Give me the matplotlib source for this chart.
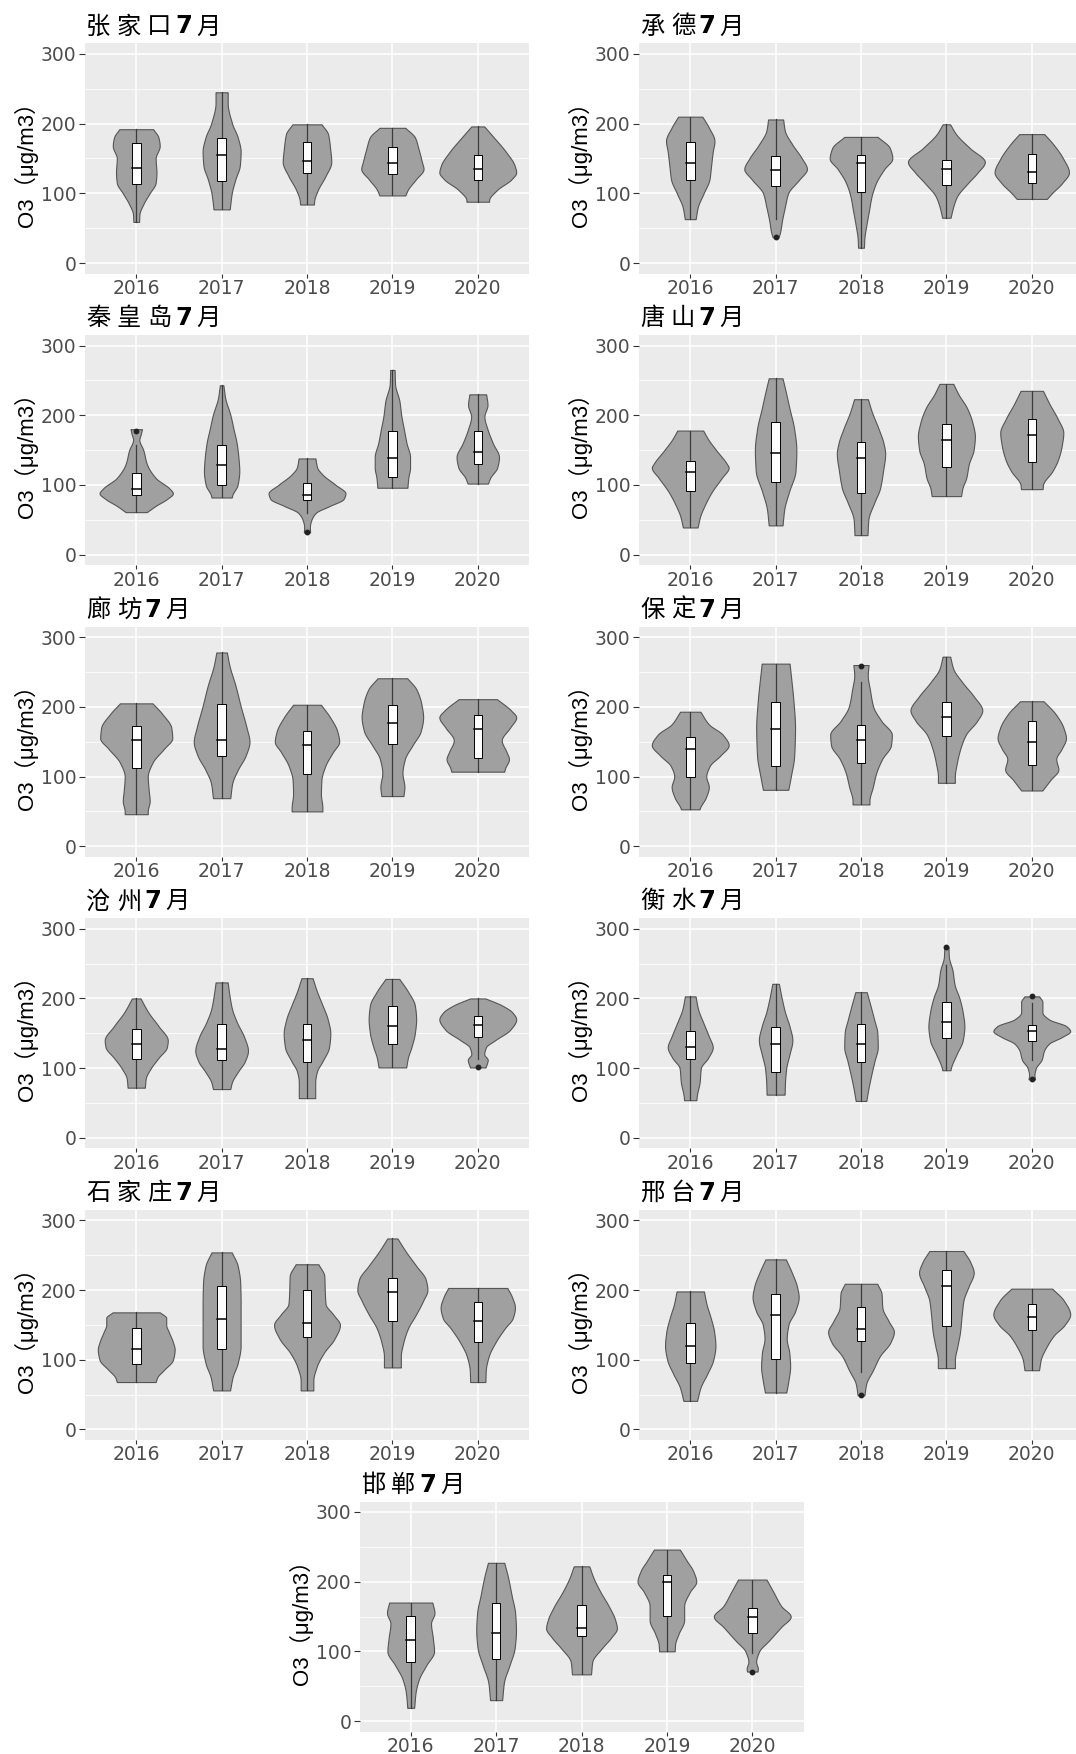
import matplotlib
matplotlib.use("Agg")
import matplotlib.pyplot as plt
import numpy as np
from matplotlib.patches import Rectangle
from matplotlib.transforms import ScaledTranslation


#------------------------[data]------------------------#
years = ["2016", "2017", "2018", "2019", "2020"]
cities = ["张家口", "承德", "秦皇岛", "唐山", "廊坊", "保定",
          "沧州", "衡水", "石家庄", "邢台", "邯郸"]

# box statistics per city, one value per year
q1 = {
    "张家口": [113, 117, 129, 128, 119],
    "承德": [119, 110, 102, 112, 115],
    "秦皇岛": [85, 100, 78, 112, 130],
    "唐山": [92, 104, 89, 126, 133],
    "廊坊": [112, 129, 104, 147, 127],
    "保定": [99, 115, 120, 158, 117],
    "沧州": [113, 111, 109, 134, 145],
    "衡水": [113, 94, 109, 143, 139],
    "石家庄": [94, 116, 133, 155, 125],
    "邢台": [95, 101, 127, 149, 142],
    "邯郸": [85, 89, 122, 151, 127],
}
median = {
    "张家口": [137, 155, 147, 143, 135],
    "承德": [143, 134, 143, 135, 131],
    "秦皇岛": [94, 129, 86, 138, 147],
    "唐山": [118, 146, 138, 165, 172],
    "廊坊": [153, 153, 145, 177, 168],
    "保定": [139, 168, 153, 186, 150],
    "沧州": [135, 127, 140, 160, 162],
    "衡水": [130, 135, 134, 166, 154],
    "石家庄": [115, 158, 153, 197, 156],
    "邢台": [120, 164, 144, 206, 162],
    "邯郸": [117, 126, 133, 200, 150],
}
q3 = {
    "张家口": [172, 179, 174, 167, 155],
    "承德": [173, 153, 155, 148, 156],
    "秦皇岛": [117, 158, 103, 177, 178],
    "唐山": [135, 191, 162, 188, 195],
    "廊坊": [172, 204, 166, 203, 189],
    "保定": [157, 207, 174, 207, 179],
    "沧州": [156, 164, 163, 189, 175],
    "衡水": [153, 159, 163, 195, 162],
    "石家庄": [146, 206, 200, 218, 183],
    "邢台": [153, 194, 175, 229, 180],
    "邯郸": [151, 169, 166, 210, 162],
}
whisker_lo = {
    "张家口": [59, 77, 84, 97, 88],
    "承德": [63, 63, 22, 65, 92],
    "秦皇岛": [61, 82, 60, 96, 102],
    "唐山": [39, 42, 28, 84, 94],
    "廊坊": [46, 69, 50, 72, 107],
    "保定": [53, 81, 60, 91, 80],
    "沧州": [72, 70, 57, 101, 113],
    "衡水": [54, 62, 53, 97, 112],
    "石家庄": [68, 56, 56, 89, 68],
    "邢台": [41, 53, 82, 88, 85],
    "邯郸": [19, 30, 67, 100, 97],
}
whisker_hi = {
    "张家口": [192, 245, 199, 194, 196],
    "承德": [210, 206, 181, 199, 185],
    "秦皇岛": [158, 243, 138, 265, 230],
    "唐山": [178, 253, 223, 245, 235],
    "廊坊": [205, 278, 203, 241, 211],
    "保定": [193, 262, 235, 272, 208],
    "沧州": [200, 223, 229, 228, 200],
    "衡水": [203, 221, 209, 248, 194],
    "石家庄": [168, 254, 237, 274, 203],
    "邢台": [198, 244, 209, 256, 202],
    "邯郸": [170, 227, 222, 246, 203],
}
outliers = {
    "承德": [[], [37], [], [], []],
    "秦皇岛": [[177], [], [32], [], []],
    "保定": [[], [], [259], [], []],
    "沧州": [[], [], [], [], [101]],
    "衡水": [[], [], [], [274], [203, 84]],
    "邢台": [[], [], [49], [], []],
    "邯郸": [[], [], [], [], [71]],
}

# violin density profiles: (O3 value, relative density), top to bottom
density = {
    "张家口": [
        [(192, .42), (180, .55), (168, .58), (150, .48), (130, .50), (115, .48), (100, .33), (85, .18), (70, .08), (59, .07)],
        [(245, .15), (230, .15), (200, .26), (180, .40), (160, .47), (140, .45), (120, .34), (100, .25), (77, .20)],
        [(199, .36), (185, .52), (165, .57), (145, .60), (125, .46), (105, .27), (90, .18), (84, .17)],
        [(194, .32), (180, .56), (165, .64), (145, .73), (135, .77), (120, .58), (105, .38), (97, .32)],
        [(196, .16), (180, .40), (160, .69), (140, .91), (130, .95), (120, .83), (105, .48), (90, .28), (88, .28)],
    ],
    "承德": [
        [(210, .29), (195, .44), (175, .58), (160, .54), (140, .50), (120, .46), (100, .32), (80, .18), (63, .13)],
        [(206, .18), (190, .22), (170, .40), (150, .63), (135, .75), (120, .57), (100, .30), (80, .22), (60, .15), (45, .11), (37, .07)],
        [(181, .40), (165, .69), (150, .75), (135, .56), (115, .36), (95, .25), (75, .19), (55, .13), (35, .08), (22, .07)],
        [(199, .09), (185, .23), (165, .56), (145, .92), (130, .75), (115, .52), (95, .25), (80, .16), (65, .10)],
        [(185, .30), (170, .52), (150, .75), (130, .89), (115, .73), (100, .48), (92, .36)],
    ],
    "秦皇岛": [
        [(180, .13), (172, .10), (165, .07), (150, .16), (130, .24), (110, .44), (95, .75), (88, .83), (80, .70), (70, .44), (61, .24)],
        [(243, .04), (225, .08), (200, .20), (180, .27), (160, .34), (140, .38), (120, .40), (100, .36), (85, .24), (82, .23)],
        [(138, .19), (125, .23), (115, .35), (100, .65), (88, .87), (80, .83), (70, .52), (60, .20), (50, .10), (40, .065), (32, .07)],
        [(265, .05), (245, .06), (220, .16), (200, .20), (180, .26), (160, .32), (140, .40), (125, .40), (110, .36), (96, .34)],
        [(230, .19), (215, .22), (198, .15), (180, .22), (160, .34), (140, .48), (125, .44), (110, .28), (102, .23)],
    ],
    "唐山": [
        [(178, .30), (165, .42), (150, .60), (130, .85), (125, .89), (110, .73), (90, .50), (70, .33), (55, .23), (39, .17)],
        [(253, .16), (235, .23), (210, .32), (180, .43), (150, .48), (120, .46), (90, .31), (65, .20), (42, .16)],
        [(223, .16), (205, .25), (180, .41), (160, .52), (145, .56), (120, .51), (95, .44), (75, .31), (50, .17), (28, .15)],
        [(245, .16), (230, .28), (210, .48), (190, .60), (170, .66), (150, .63), (130, .52), (110, .46), (95, .37), (84, .34)],
        [(235, .26), (215, .42), (195, .60), (175, .73), (155, .69), (135, .60), (120, .48), (100, .26), (94, .25)],
    ],
    "廊坊": [
        [(205, .34), (190, .54), (170, .73), (155, .75), (140, .58), (120, .34), (100, .24), (80, .26), (65, .28), (50, .24), (46, .24)],
        [(278, .11), (260, .16), (230, .29), (200, .40), (170, .52), (150, .58), (130, .50), (110, .34), (90, .22), (69, .18)],
        [(203, .29), (185, .48), (165, .63), (150, .67), (135, .54), (115, .38), (95, .30), (75, .29), (55, .32), (50, .32)],
        [(241, .31), (225, .50), (205, .60), (185, .64), (165, .59), (145, .42), (125, .26), (105, .21), (85, .25), (72, .23)],
        [(211, .40), (195, .69), (185, .80), (170, .67), (152, .50), (135, .60), (125, .65), (112, .57), (107, .55)],
    ],
    "保定": [
        [(193, .24), (175, .44), (160, .77), (145, .91), (130, .71), (115, .46), (100, .38), (85, .44), (70, .37), (55, .23), (53, .22)],
        [(262, .33), (240, .37), (210, .42), (170, .46), (130, .44), (100, .36), (81, .30)],
        [(260, .18), (245, .16), (225, .21), (200, .29), (180, .48), (160, .73), (145, .71), (125, .50), (105, .36), (85, .28), (65, .20), (60, .20)],
        [(272, .09), (255, .16), (235, .38), (215, .65), (195, .85), (180, .73), (160, .46), (140, .33), (120, .25), (100, .20), (91, .20)],
        [(208, .28), (190, .56), (170, .75), (155, .81), (140, .71), (125, .58), (110, .63), (95, .44), (80, .25)],
    ],
    "沧州": [
        [(200, .10), (180, .28), (160, .52), (140, .73), (130, .71), (115, .52), (100, .34), (85, .22), (72, .20)],
        [(223, .14), (205, .18), (185, .24), (165, .36), (145, .52), (125, .61), (110, .54), (95, .38), (80, .24), (70, .20)],
        [(229, .13), (210, .23), (190, .36), (170, .48), (150, .54), (130, .51), (110, .36), (95, .23), (80, .19), (57, .19)],
        [(228, .16), (210, .36), (190, .52), (170, .55), (150, .52), (130, .44), (115, .36), (101, .32)],
        [(200, .18), (190, .56), (180, .80), (170, .89), (155, .75), (140, .40), (130, .19), (120, .15), (112, .23), (101, .18)],
    ],
    "衡水": [
        [(203, .13), (185, .19), (165, .32), (145, .46), (130, .55), (115, .44), (100, .26), (80, .23), (60, .16), (54, .15)],
        [(221, .08), (200, .15), (180, .23), (160, .34), (140, .41), (120, .34), (100, .26), (80, .23), (62, .22)],
        [(209, .14), (190, .23), (170, .32), (150, .40), (130, .41), (110, .33), (90, .25), (70, .18), (53, .13)],
        [(274, .05), (260, .06), (240, .15), (220, .20), (200, .32), (180, .40), (160, .44), (140, .40), (120, .25), (100, .11), (97, .10)],
        [(203, .18), (195, .26), (180, .26), (170, .42), (160, .85), (153, .94), (145, .75), (135, .42), (125, .30), (112, .24), (100, .10), (90, .065), (84, .08)],
    ],
    "石家庄": [
        [(168, .56), (160, .71), (150, .71), (140, .77), (125, .87), (115, .91), (100, .87), (85, .65), (75, .50), (68, .46)],
        [(254, .24), (235, .38), (210, .44), (180, .45), (150, .45), (120, .45), (95, .38), (75, .26), (56, .20)],
        [(237, .27), (220, .41), (200, .42), (180, .44), (165, .62), (150, .78), (130, .65), (110, .40), (90, .23), (70, .15), (56, .15)],
        [(274, .12), (255, .32), (235, .56), (215, .79), (200, .83), (185, .73), (165, .56), (145, .37), (125, .26), (105, .20), (89, .20)],
        [(203, .70), (190, .81), (175, .88), (160, .83), (145, .64), (125, .42), (105, .26), (85, .19), (68, .18)],
    ],
    "邢台": [
        [(198, .32), (180, .38), (160, .48), (140, .56), (120, .59), (100, .54), (80, .40), (60, .24), (41, .16)],
        [(244, .24), (225, .38), (205, .50), (190, .54), (170, .46), (150, .30), (130, .26), (110, .32), (90, .34), (70, .30), (53, .25)],
        [(209, .38), (195, .48), (175, .50), (155, .65), (140, .77), (125, .69), (105, .44), (85, .28), (65, .12), (49, .08)],
        [(256, .40), (240, .56), (225, .64), (205, .52), (185, .40), (165, .36), (140, .32), (120, .26), (100, .20), (88, .20)],
        [(202, .48), (185, .75), (165, .90), (150, .77), (135, .52), (120, .36), (100, .21), (85, .17)],
    ],
    "邯郸": [
        [(170, .50), (155, .55), (140, .47), (120, .51), (100, .54), (80, .36), (60, .19), (40, .11), (19, .08)],
        [(227, .19), (205, .28), (180, .36), (155, .44), (130, .46), (105, .43), (80, .31), (55, .18), (30, .14)],
        [(222, .18), (205, .28), (185, .44), (165, .63), (145, .78), (133, .82), (120, .69), (105, .48), (85, .25), (67, .22)],
        [(246, .30), (230, .46), (215, .61), (200, .68), (185, .53), (165, .40), (145, .40), (125, .27), (110, .19), (100, .18)],
        [(203, .33), (185, .49), (165, .67), (150, .89), (135, .67), (115, .38), (100, .16), (85, .09), (75, .13), (71, .12)],
    ],
}


#------------------------[helpers]------------------------#
def pchip(x, y, xn):
    # monotone cubic through the profile points, keeps the outline from overshooting
    h = np.diff(x)
    d = np.diff(y) / h
    m = np.zeros_like(y)
    m[0], m[-1] = d[0], d[-1]
    for k in range(1, len(x) - 1):
        if d[k - 1] * d[k] > 0:
            w1 = 2 * h[k] + h[k - 1]
            w2 = h[k] + 2 * h[k - 1]
            m[k] = (w1 + w2) / (w1 / d[k - 1] + w2 / d[k])
    i = np.clip(np.searchsorted(x, xn) - 1, 0, len(x) - 2)
    t = (xn - x[i]) / h[i]
    h00 = 2 * t**3 - 3 * t**2 + 1
    h10 = t**3 - 2 * t**2 + t
    h01 = -2 * t**3 + 3 * t**2
    h11 = t**3 - t**2
    return h00 * y[i] + h10 * h[i] * m[i] + h01 * y[i + 1] + h11 * h[i] * m[i + 1]


FILL = "#A0A0A0"
EDGE = "#555555"
PANEL = "#EBEBEB"
CJK = ["Noto Sans CJK SC"]
TSIZE = 17.5


def draw_title(ax, city):
    # city name spread out a little, then a bold 7 and 月
    base = ax.transAxes + ScaledTranslation(0, 0.10, ax.figure.dpi_scale_trans)
    prev = ax.text(0.003, 1, city[0], transform=base, va="baseline",
                   ha="left", fontsize=TSIZE, family=CJK)
    for ch in city[1:]:
        prev = ax.annotate(ch, xy=(1, 1), xycoords=(prev, base),
                           xytext=(4.5, 0), textcoords="offset points",
                           va="baseline", ha="left", fontsize=TSIZE, family=CJK)
    prev = ax.annotate("7", xy=(1, 1), xycoords=(prev, base),
                       xytext=(2.5, 0), textcoords="offset points",
                       va="baseline", ha="left", fontsize=TSIZE,
                       fontweight="bold", family=["DejaVu Sans"])
    ax.annotate("月", xy=(1, 1), xycoords=(prev, base),
                xytext=(3, 0), textcoords="offset points",
                va="baseline", ha="left", fontsize=TSIZE, family=CJK)


def draw_panel(ax, city):
    profiles = density[city]
    scale = 0.9 / max(max(d for _, d in p) for p in profiles)
    for k, prof in enumerate(profiles):
        pos = k + 1
        pts = sorted(prof)
        ys = np.array([p[0] for p in pts], dtype=float)
        ds = np.array([p[1] for p in pts], dtype=float) * scale
        yy = np.linspace(ys[0], ys[-1], 300)
        hw = np.clip(pchip(ys, ds, yy), 0.01, None) / 2
        ax.fill_betweenx(yy, pos - hw, pos + hw, facecolor=FILL,
                         edgecolor=EDGE, linewidth=0.8, zorder=2)

        # boxplot on top of the violin
        lo, hi = whisker_lo[city][k], whisker_hi[city][k]
        a, m, b = q1[city][k], median[city][k], q3[city][k]
        ax.plot([pos, pos], [lo, a], color="#3c3c3c", lw=0.9, zorder=3)
        ax.plot([pos, pos], [b, hi], color="#3c3c3c", lw=0.9, zorder=3)
        ax.add_patch(Rectangle((pos - 0.05, a), 0.1, b - a, facecolor="white",
                               edgecolor="black", linewidth=0.7, zorder=4))
        ax.plot([pos - 0.05, pos + 0.05], [m, m], color="black", lw=1.1, zorder=5)
        for v in outliers.get(city, [[]] * 5)[k]:
            ax.plot(pos, v, "o", ms=3.2, color="#222222", zorder=5)

    ax.set_facecolor(PANEL)
    for s in ax.spines.values():
        s.set_visible(False)
    ax.set_xlim(0.4, 5.6)
    ax.set_ylim(-15, 315)
    ax.set_xticks(range(1, 6))
    ax.set_xticklabels(years)
    ax.set_yticks([0, 100, 200, 300])
    ax.set_yticks([50, 150, 250], minor=True)
    ax.grid(which="major", color="white", lw=1.1)
    ax.grid(which="minor", axis="y", color="white", lw=0.55)
    ax.set_axisbelow(True)
    ax.tick_params(axis="both", which="major", colors="#333333",
                   labelcolor="#4D4D4D", labelsize=13.5, width=0.8)
    ax.tick_params(axis="x", length=3, pad=1)
    ax.tick_params(axis="y", length=4.5, pad=1.5)
    ax.tick_params(which="minor", length=0)

    ax.set_ylabel("O3（μg/m3）", fontsize=16, color="black", va="center",
                  family=["Liberation Sans", "Noto Sans CJK SC"])
    draw_title(ax, city)


#------------------------[layout]------------------------#
W, H = 1076, 1754
fig = plt.figure(figsize=(W / 100, H / 100), dpi=100)

ph, pw = 230, 444
for n, city in enumerate(cities):
    if n < 10:
        row, col = divmod(n, 2)
        x0 = 85 if col == 0 else 639
    else:
        row, x0 = 5, 359.5
    top = 43.5 + row * 291.6
    ax = fig.add_axes([x0 / W, 1 - (top + ph) / H, pw / W, ph / H])
    draw_panel(ax, city)
    ax.yaxis.set_label_coords(-59 / pw, 0.5)

fig.savefig("out.png", dpi=100, facecolor="white")
